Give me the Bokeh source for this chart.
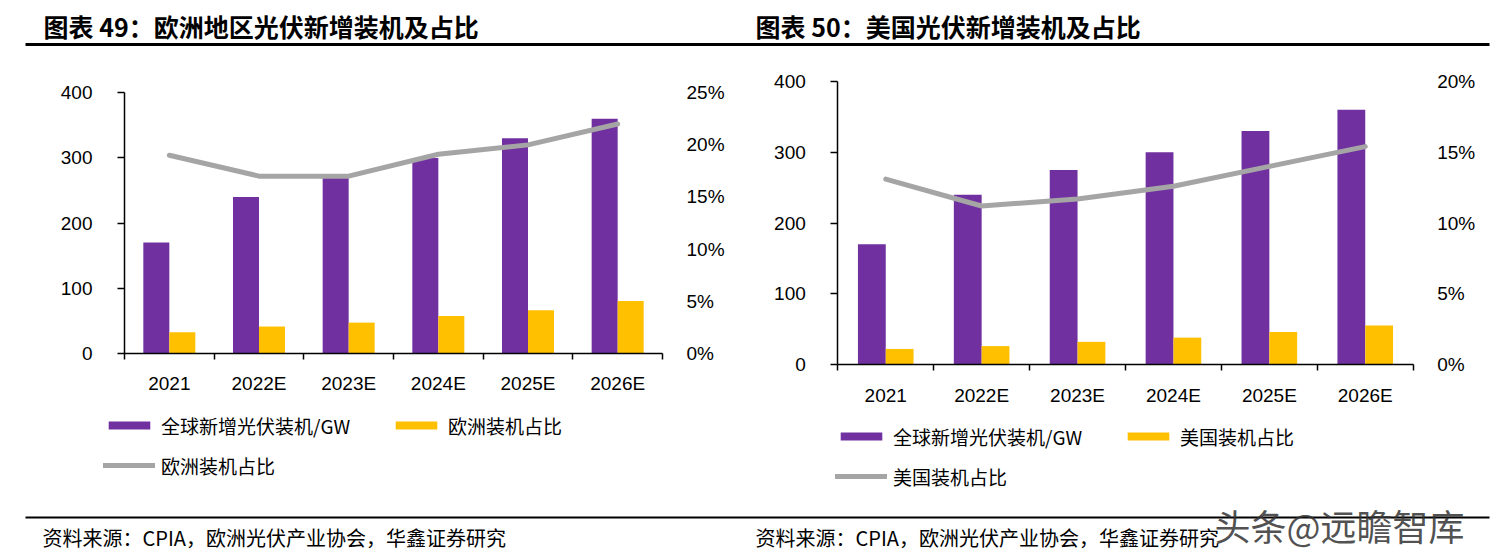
import numpy as np
from bokeh.plotting import figure
from bokeh.models import (Range1d, LinearAxis, FixedTicker, NumeralTickFormatter,
                          Legend, LegendItem, ColumnDataSource)
from bokeh.layouts import column, row
from bokeh.transform import dodge
from bokeh.core.properties import value
from bokeh.embed import file_html
from bokeh.resources import INLINE

# ---------------- data ----------------
categories = ["2021", "2022E", "2023E", "2024E", "2025E", "2026E"]

eu_global_gw = [170, 240, 270, 300, 330, 360]
eu_install = [32, 41, 47, 57, 66, 80]
eu_share = [0.190, 0.170, 0.170, 0.191, 0.200, 0.220]

us_global_gw = [170, 240, 275, 300, 330, 360]
us_install = [22, 26, 32, 38, 46, 55]
us_share = [0.131, 0.112, 0.117, 0.126, 0.140, 0.154]

gw_ticks = [0, 100, 200, 300, 400]
eu_pct_ticks = [0, 0.05, 0.10, 0.15, 0.20, 0.25]
us_pct_ticks = [0, 0.05, 0.10, 0.15, 0.20]

eu_labels = ["全球新增光伏装机/GW", "欧洲装机占比", "欧洲装机占比"]
us_labels = ["全球新增光伏装机/GW", "美国装机占比", "美国装机占比"]

titles = ["图表 49：欧洲地区光伏新增装机及占比", "图表 50：美国光伏新增装机及占比"]
sources = ["资料来源：CPIA，欧洲光伏产业协会，华鑫证券研究",
           "资料来源：CPIA，欧洲光伏产业协会，华鑫证券研究"]
watermark = ["头条@远瞻智库"]

# ---------------- style / layout ----------------
PURPLE = "#7030A0"
YELLOW = "#FFC000"
GRAY = "#A5A5A5"
CJK = "Noto Sans CJK SC"
LAT = "Liberation Sans"

TOTAL_W = 1504
TOP_H = 60
MID_TOP, MID_BOT = 60, 500
FOOT_H = 51


def strip(h):
    s = figure(width=TOTAL_W, height=h, x_range=Range1d(0, TOTAL_W), y_range=Range1d(h, 0),
               x_axis_type=None, y_axis_type=None, toolbar_location=None,
               output_backend="svg", min_border=0, outline_line_color=None)
    return s


def chart(glob, inst, share, pct_max, pct_ticks, labels, fig_x0, fig_w, px, legend_px):
    x0px, x6px, y0px, y400px = px
    n = len(categories)
    ppx = (x6px - x0px) / n
    ppy = (y0px - y400px) / 400.0
    xr = Range1d((fig_x0 - x0px) / ppx, (fig_x0 + fig_w - x0px) / ppx)
    ylo, yhi = (y0px - MID_BOT) / ppy, (y0px - MID_TOP) / ppy
    yr = Range1d(ylo, yhi)
    p = figure(width=fig_w, height=MID_BOT - MID_TOP, x_range=xr, y_range=yr,
               x_axis_type=None, y_axis_type=None, toolbar_location=None,
               output_backend="svg", outline_line_color=None, min_border=0)
    k = pct_max / 400.0
    p.extra_y_ranges = {"pct": Range1d(ylo * k, yhi * k)}
    centers = [i + 0.5 for i in range(n)]
    src = ColumnDataSource(dict(x=centers, glob=glob, inst=inst, share=share))
    r1 = p.vbar(x=dodge("x", -0.145), top="glob", width=0.29, source=src,
                fill_color=PURPLE, line_color=None)
    r2 = p.vbar(x=dodge("x", 0.145), top="inst", width=0.29, source=src,
                fill_color=YELLOW, line_color=None)
    r3 = p.line(x="x", y="share", source=src, y_range_name="pct", line_color=GRAY,
                line_width=5, line_cap="round", line_join="round")

    xaxis = LinearAxis(ticker=FixedTicker(ticks=centers, minor_ticks=list(range(n + 1))),
                       major_label_overrides={c: lab for c, lab in zip(centers, categories)},
                       fixed_location=0, bounds=(0, n))
    xaxis.major_tick_out = 0
    xaxis.major_tick_in = 0
    xaxis.minor_tick_out = 6
    xaxis.minor_tick_in = 0
    xaxis.minor_tick_line_color = "black"
    xaxis.minor_tick_line_width = 1.5
    xaxis.axis_line_color = "black"
    xaxis.axis_line_width = 1.5
    xaxis.major_label_standoff = 14
    xaxis.major_label_text_font = LAT
    xaxis.major_label_text_font_size = "19px"
    xaxis.major_label_text_color = "black"
    p.add_layout(xaxis, "below")

    yaxis = LinearAxis(ticker=FixedTicker(ticks=gw_ticks), fixed_location=0, bounds=(0, 400))
    yaxis.major_tick_out = 7
    yaxis.major_tick_in = 0
    yaxis.minor_tick_line_color = None
    yaxis.major_tick_line_width = 1.5
    yaxis.axis_line_width = 1.5
    yaxis.major_label_standoff = 25
    yaxis.major_label_text_font = LAT
    yaxis.major_label_text_font_size = "19px"
    yaxis.major_label_text_color = "black"
    p.add_layout(yaxis, "left")

    raxis = LinearAxis(y_range_name="pct", ticker=FixedTicker(ticks=pct_ticks),
                       formatter=NumeralTickFormatter(format="0%"),
                       fixed_location=n, bounds=(0, pct_max))
    raxis.axis_line_color = None
    raxis.major_tick_line_color = None
    raxis.minor_tick_line_color = None
    raxis.major_label_standoff = 18
    raxis.major_label_text_font = LAT
    raxis.major_label_text_font_size = "19px"
    raxis.major_label_text_color = "black"
    p.add_layout(raxis, "right")

    gx, gbottom = legend_px
    leg = Legend(items=[LegendItem(label=labels[0], renderers=[r1]),
                        LegendItem(label=labels[1], renderers=[r2]),
                        LegendItem(label=labels[2], renderers=[r3])],
                 location=(gx - fig_x0, MID_BOT - gbottom), orientation="horizontal", ncols=2,
                 border_line_color=None, background_fill_alpha=0,
                 padding=0, margin=0, spacing=13,
                 glyph_width=52, glyph_height=10, label_standoff=6, label_width=216,
                 label_text_font=CJK, label_text_font_size="19px", label_text_color="black")
    p.add_layout(leg, "center")
    return p


# ---------------- top strip ----------------
top = strip(TOP_H)
top.text(x=[43, 755], y=[25, 25], text=titles, text_font=value(CJK),
         text_font_size="25px", text_font_style="bold", text_baseline="middle",
         text_align="left", text_color="black")
top.segment(x0=[25], y0=[44], x1=[1489], y1=[44], line_color="black", line_width=3)

# ---------------- charts ----------------
p1 = chart(eu_global_gw, eu_install, eu_share, 0.25, eu_pct_ticks, eu_labels,
           0, 750, (124, 662, 352.7, 92.3), (103, 478.5))
p2 = chart(us_global_gw, us_install, us_share, 0.20, us_pct_ticks, us_labels,
           750, 754, (837.3, 1412.7, 364, 81), (835, 489.5))

# ---------------- footer strip ----------------
foot = strip(FOOT_H)
foot.segment(x0=[25], y0=[17], x1=[1489], y1=[17], line_color="black", line_width=2)
foot.text(x=[42, 755], y=[37, 37], text=sources, text_font=value(CJK),
          text_font_size="20px", text_baseline="middle", text_align="left", text_color="black")
foot.text(x=[1214], y=[24], text=watermark, text_font=value(CJK),
          text_font_size="36px", text_baseline="middle", text_align="left",
          text_color="#333333", text_alpha=0.85)

layout = column(top, row(p1, p2), foot)
open("out.html", "w").write(file_html(layout, INLINE))
